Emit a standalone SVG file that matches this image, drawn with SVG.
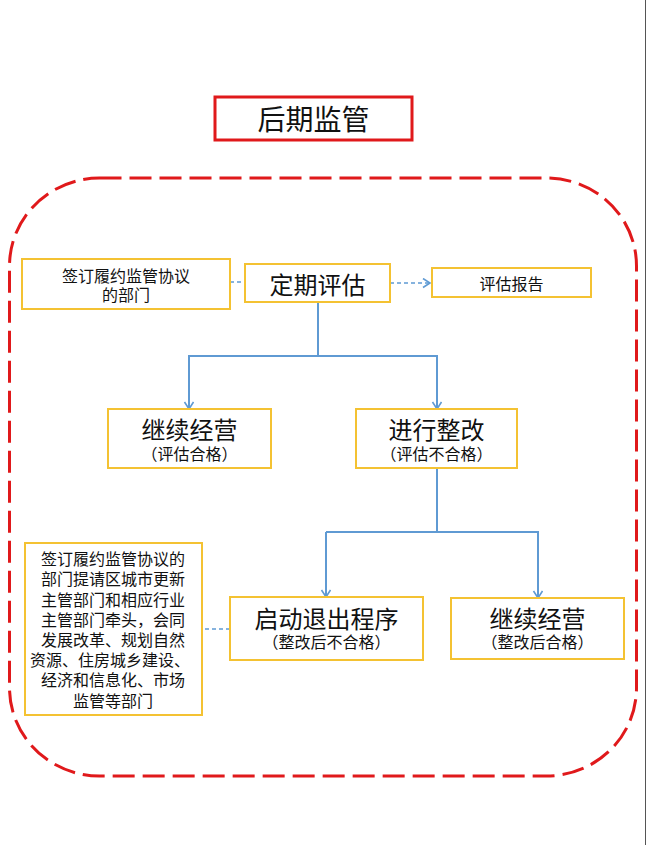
<svg xmlns="http://www.w3.org/2000/svg" width="647" height="845" viewBox="0 0 647 845">
<style>
text{font-family:"Liberation Sans","Noto Sans CJK SC",sans-serif;fill:#111;text-anchor:middle}
.box{fill:#fff;stroke:#F4C232;stroke-width:2}
.big{font-size:24px}
.sm{font-size:16px}
.conn{fill:none;stroke:#5F9AD3;stroke-width:2}
.dash{fill:none;stroke:#5F9AD3;stroke-width:1.6;stroke-dasharray:4 3}
</style>
<defs>
<marker id="arr" markerUnits="userSpaceOnUse" markerWidth="12" markerHeight="12" refX="8" refY="5" orient="auto">
<path d="M1,0.5 L8,5 L1,9.5" fill="none" stroke="#5F9AD3" stroke-width="1.6"/>
</marker>
</defs>
<rect x="0" y="0" width="647" height="845" fill="#fff"/>
<line x1="645.5" y1="0" x2="645.5" y2="845" stroke="#555" stroke-width="1"/>
<g id="title">
<rect x="215" y="97" width="197" height="43" fill="#fff" stroke="#E0191B" stroke-width="3"/>
<text x="313.5" y="130" style="font-size:28px">后期监管</text>
</g>
<g id="frame">
<rect x="9.5" y="178" width="627" height="598" rx="90" ry="88" fill="none" stroke="#E0191B" stroke-width="3" stroke-dasharray="22 8"/>
</g>
<g id="connectors">
<path class="dash" d="M230 282 H245"/>
<path class="dash" d="M390 283 H430" marker-end="url(#arr)"/>
<path class="conn" d="M318 302 V356"/>
<path class="conn" d="M189 409 V356 H437 V409" marker-end="url(#arr)"/>
<path class="conn" d="M189 356 V409" marker-end="url(#arr)"/>
<path class="conn" d="M437 468 V532"/>
<path class="conn" d="M326 532 H538 V598" marker-end="url(#arr)"/>
<path class="conn" d="M326 532 V597" marker-end="url(#arr)"/>
<path class="dash" d="M198 629 H230"/>
</g>
<g id="dept">
<rect class="box" x="22" y="259" width="208" height="50"/>
<text class="sm" x="126" y="282">签订履约监管协议</text>
<text class="sm" x="126" y="301">的部门</text>
</g>
<g id="eval">
<rect class="box" x="245" y="264" width="145" height="38"/>
<text class="big" x="317.5" y="293.5">定期评估</text>
</g>
<g id="report">
<rect class="box" x="432" y="268" width="159" height="29"/>
<text class="sm" x="511.5" y="290">评估报告</text>
</g>
<g id="continue1">
<rect class="box" x="108" y="409" width="163" height="59"/>
<text class="big" x="189.5" y="438.5">继续经营</text>
<text class="sm" x="189.5" y="460">（评估合格）</text>
</g>
<g id="rectify">
<rect class="box" x="356" y="409" width="161" height="59"/>
<text class="big" x="436.5" y="438.5">进行整改</text>
<text class="sm" x="436.5" y="460">（评估不合格）</text>
</g>
<g id="exit">
<rect class="box" x="230" y="597" width="193" height="63"/>
<text class="big" x="326.5" y="627.5">启动退出程序</text>
<text class="sm" x="326.5" y="648">（整改后不合格）</text>
</g>
<g id="continue2">
<rect class="box" x="451" y="598" width="173" height="61"/>
<text class="big" x="537.5" y="627.5">继续经营</text>
<text class="sm" x="537.5" y="648">（整改后合格）</text>
</g>
<g id="depts">
<rect class="box" x="25" y="543" width="177" height="172"/>
<text class="sm" x="113" y="565">签订履约监管协议的</text>
<text class="sm" x="113" y="585">部门提请区城市更新</text>
<text class="sm" x="113" y="605.5">主管部门和相应行业</text>
<text class="sm" x="113" y="625.5">主管部门牵头，会同</text>
<text class="sm" x="113" y="646">发展改革、规划自然</text>
<text class="sm" x="110" y="666">资源、住房城乡建设、</text>
<text class="sm" x="113" y="686">经济和信息化、市场</text>
<text class="sm" x="113" y="706.5">监管等部门</text>
</g>
</svg>
